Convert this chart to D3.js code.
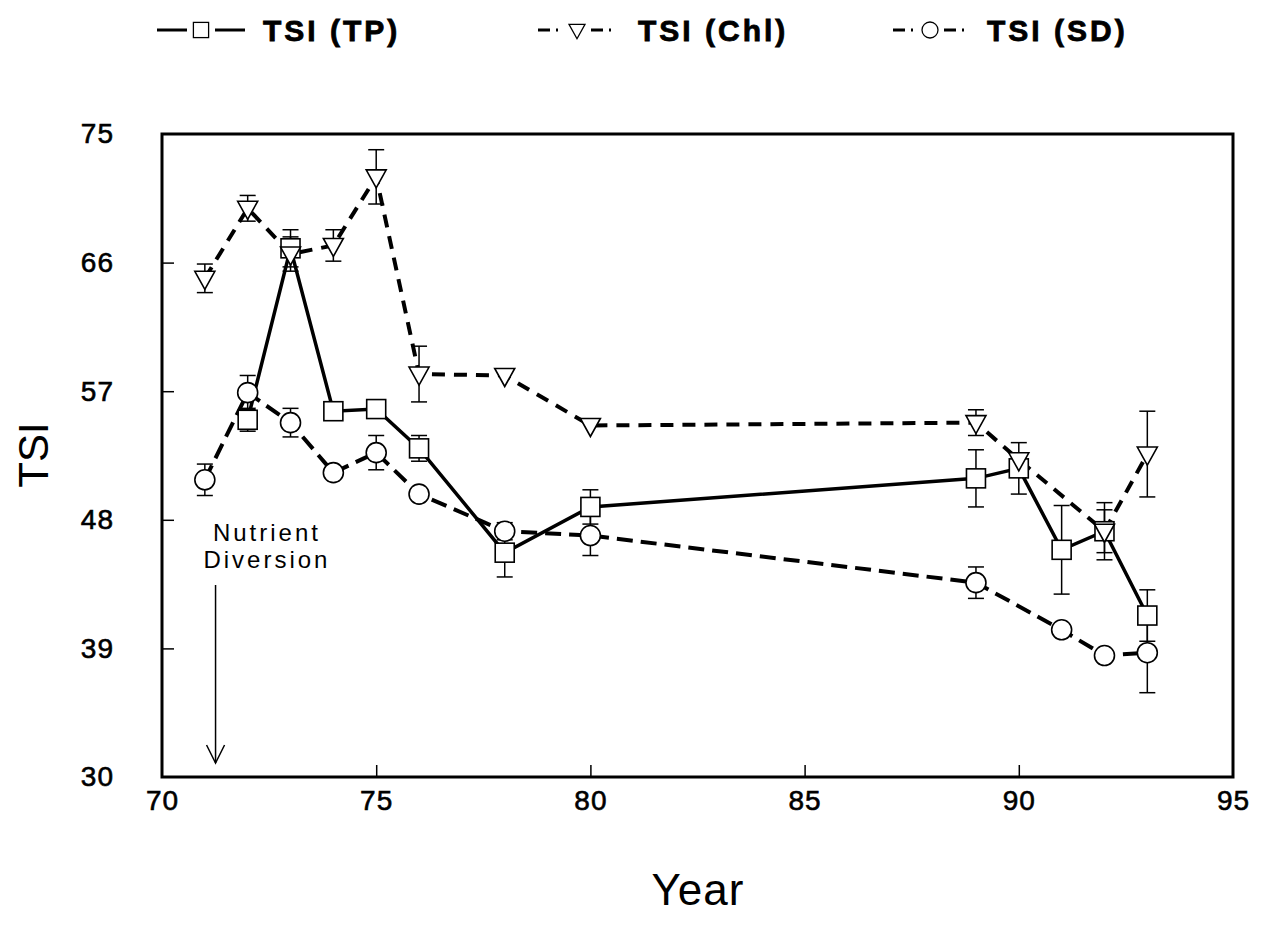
<!DOCTYPE html>
<html>
<head>
<meta charset="utf-8">
<script src="https://cdn.jsdelivr.net/npm/d3@7"></script>
<style>
  body { margin: 0; background: #fff; }
  text { font-family: "Liberation Sans", Arial, Helvetica, sans-serif; fill: #000; }
</style>
</head>
<body>
<div id="chart"></div>
<script>
// TSI (TP)
const tpYears = [72, 73, 74, 75, 76, 78, 80, 89, 90, 91, 92, 93];
const tpValues = [55.0, 67.0, 55.6, 55.75, 53.0, 45.7, 48.9, 50.9, 51.6, 45.9, 47.2, 41.3];
const tpErr = [0.8, 1.3, 0, 0, 0.9, 1.7, 1.2, 2.0, 1.8, 3.1, 1.5, 1.8];

// TSI (Chl)
const chlYears = [71, 72, 73, 74, 75, 76, 78, 80, 89, 90, 92, 93];
const chlValues = [64.9, 69.8, 66.6, 67.2, 72.0, 58.2, 58.1, 54.6, 54.8, 52.2, 47.2, 52.6];
const chlErr = [1.0, 0.9, 1.2, 1.1, 1.9, 1.95, 0, 0, 0.9, 0, 2.0, 3.0];

// TSI (SD)
const sdYears = [71, 72, 73, 74, 75, 76, 78, 80, 89, 91, 92, 93];
const sdValues = [50.8, 56.9, 54.8, 51.3, 52.7, 49.8, 47.2, 46.9, 43.6, 40.3, 38.5, 38.7];
const sdErr = [1.1, 1.2, 1.0, 0, 1.2, 0, 0.6, 1.4, 1.1, 0, 0, 2.8];

const xTicks = [70, 75, 80, 85, 90, 95];
const yTicks = [30, 39, 48, 57, 66, 75];
const diversionYear = 71.25;

const width = 1267, height = 941;
const margin = { top: 134, right: 34, bottom: 164, left: 162 };
const w = width - margin.left - margin.right;
const h = height - margin.top - margin.bottom;

const svg = d3.select("#chart").append("svg")
    .attr("width", width)
    .attr("height", height);

const g = svg.append("g")
    .attr("transform", `translate(${margin.left},${margin.top})`);

const x = d3.scaleLinear().domain([70, 95]).range([0, w]);
const y = d3.scaleLinear().domain([30, 75]).range([h, 0]);

// axes (ticks point inward)
const yAxis = g.append("g")
    .call(d3.axisLeft(y).tickValues(yTicks).tickSize(-12).tickPadding(48));
const xAxis = g.append("g")
    .attr("transform", `translate(0,${h})`)
    .call(d3.axisBottom(x).tickValues(xTicks).tickSize(-12).tickPadding(13));
[yAxis, xAxis].forEach(a => {
    a.select(".domain").remove();
    a.selectAll("line").attr("stroke", "#000").attr("stroke-width", 1.5);
    a.selectAll("text")
        .attr("font-size", 28)
        .attr("fill", "#000")
        .attr("stroke", "#000")
        .attr("stroke-width", 0.6)
        .style("letter-spacing", "1px");
});
// no tick marks at the corners
yAxis.selectAll(".tick").filter(d => d === 30 || d === 75).select("line").remove();
xAxis.selectAll(".tick").filter(d => d === 70 || d === 95).select("line").remove();

// frame
g.append("rect")
    .attr("x", 0).attr("y", 0)
    .attr("width", w).attr("height", h)
    .attr("fill", "none")
    .attr("stroke", "#000")
    .attr("stroke-width", 3);

// axis titles
svg.append("text")
    .attr("transform", "translate(48,455) rotate(-90)")
    .attr("text-anchor", "middle")
    .attr("font-size", 42)
    .text("TSI");

svg.append("text")
    .attr("x", 698)
    .attr("y", 905)
    .attr("text-anchor", "middle")
    .attr("font-size", 44)
    .style("letter-spacing", "1px")
    .text("Year");

// series
const series = [
    { name: "TSI (TP)", years: tpYears, values: tpValues, err: tpErr, shape: "square", dash: null, lw: 3.5 },
    { name: "TSI (Chl)", years: chlYears, values: chlValues, err: chlErr, shape: "triangle", dash: "13,9", lw: 4 },
    { name: "TSI (SD)", years: sdYears, values: sdValues, err: sdErr, shape: "circle", dash: "16,8", lw: 4 }
];

const line = d3.line().x(d => x(d.year)).y(d => y(d.value));

series.forEach(s => {
    s.points = s.years.map((yr, i) => ({ year: yr, value: s.values[i], err: s.err[i] }));
});

// lines
series.forEach(s => {
    g.append("path")
        .datum(s.points)
        .attr("fill", "none")
        .attr("stroke", "#000")
        .attr("stroke-width", s.lw)
        .attr("stroke-dasharray", s.dash)
        .attr("d", line);
});

// error bars
const cap = 8;
series.forEach(s => {
    const eb = g.append("g").selectAll("g")
        .data(s.points.filter(d => d.err > 0))
        .enter().append("g");
    eb.append("line")
        .attr("x1", d => x(d.year)).attr("x2", d => x(d.year))
        .attr("y1", d => y(d.value + d.err)).attr("y2", d => y(d.value - d.err))
        .attr("stroke", "#000").attr("stroke-width", 1.5);
    eb.append("line")
        .attr("x1", d => x(d.year) - cap).attr("x2", d => x(d.year) + cap)
        .attr("y1", d => y(d.value + d.err)).attr("y2", d => y(d.value + d.err))
        .attr("stroke", "#000").attr("stroke-width", 1.5);
    eb.append("line")
        .attr("x1", d => x(d.year) - cap).attr("x2", d => x(d.year) + cap)
        .attr("y1", d => y(d.value - d.err)).attr("y2", d => y(d.value - d.err))
        .attr("stroke", "#000").attr("stroke-width", 1.5);
});

// markers
function drawMarker(sel, shape) {
    if (shape === "square") {
        sel.append("rect")
            .attr("x", -9.5).attr("y", -9.5).attr("width", 19).attr("height", 19);
    } else if (shape === "circle") {
        sel.append("circle").attr("r", 10);
    } else {
        sel.append("path").attr("d", "M-10,-7L10,-7L0,11Z");
    }
    sel.selectAll("rect,circle,path")
        .attr("fill", "#fff")
        .attr("stroke", "#000")
        .attr("stroke-width", 1.6);
}

series.forEach(s => {
    const m = g.append("g").selectAll("g")
        .data(s.points)
        .enter().append("g")
        .attr("transform", d => `translate(${x(d.year)},${y(d.value)})`);
    drawMarker(m, s.shape);
});

// Nutrient Diversion annotation
const ax = x(diversionYear);
g.append("text")
    .attr("x", x(72.45))
    .attr("y", 541 - margin.top)
    .attr("text-anchor", "middle")
    .attr("font-size", 24)
    .style("letter-spacing", "3px")
    .text("Nutrient");
g.append("text")
    .attr("x", x(72.45))
    .attr("y", 568 - margin.top)
    .attr("text-anchor", "middle")
    .attr("font-size", 24)
    .style("letter-spacing", "3px")
    .text("Diversion");
g.append("line")
    .attr("x1", ax).attr("x2", ax)
    .attr("y1", 585 - margin.top).attr("y2", 763 - margin.top)
    .attr("stroke", "#000").attr("stroke-width", 1.5);
g.append("path")
    .attr("d", `M${ax - 9},${745 - margin.top}L${ax},${763 - margin.top}L${ax + 9},${745 - margin.top}`)
    .attr("fill", "none")
    .attr("stroke", "#000")
    .attr("stroke-width", 1.5);

// legend
const legendY = 30;
const legendItems = [
    { s: series[0], x0: 157, x1: 245, text: 263, pattern: "32,0" },
    { s: series[1], x0: 538, x1: 616, text: 638, pattern: "12,6,2,6" },
    { s: series[2], x0: 893, x1: 967, text: 987, pattern: "12,6,2,6" }
];
legendItems.forEach(it => {
    const cx = (it.x0 + it.x1) / 2;
    const lg = svg.append("g");
    lg.append("line")
        .attr("x1", it.x0).attr("x2", cx - 14)
        .attr("y1", legendY).attr("y2", legendY)
        .attr("stroke", "#000").attr("stroke-width", 3)
        .attr("stroke-dasharray", it.pattern);
    lg.append("line")
        .attr("x1", cx + 14).attr("x2", it.x1)
        .attr("y1", legendY).attr("y2", legendY)
        .attr("stroke", "#000").attr("stroke-width", 3)
        .attr("stroke-dasharray", it.pattern);
    const mk = lg.append("g").attr("transform", `translate(${cx},${legendY})`);
    drawMarker(mk, it.s.shape);
    mk.selectAll("rect,circle,path").attr("transform", "scale(0.8)");
    lg.append("text")
        .attr("x", it.text)
        .attr("y", legendY + 11)
        .attr("font-size", 30)
        .attr("font-weight", "bold")
        .attr("stroke", "#000")
        .attr("stroke-width", 0.8)
        .style("letter-spacing", "3px")
        .text(it.s.name);
});
</script>
</body>
</html>
